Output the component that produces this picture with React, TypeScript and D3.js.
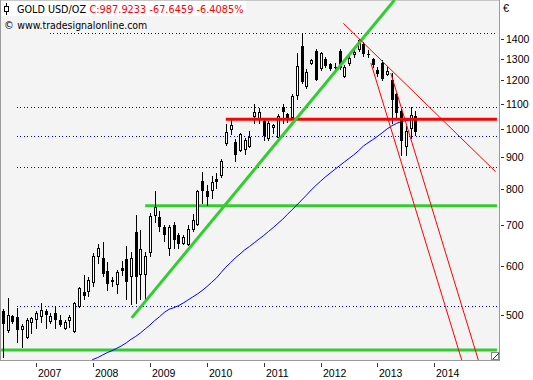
import React from 'react';
import * as d3 from 'd3';

// Monthly candles, June 2006 .. September 2013 (EUR per ounce)
const FIRST_MONTH = new Date(2006, 5, 1);
const opens = [506,470,497,495,473,458,484,490,495,506,486,504,491,474,489,468,514,544,545,562,620,618,589,564,558,595,615,575,680,580,580,630,724,720,694,640,700,673,652,649,687,700,825,792,792,830,840,945,996,953,920,925,935,1045,1040,1030,962,1002,968,1085,1058,1042,1131,1362,1170,1275,1340,1250,1300,1273,1260,1340,1215,1275,1317,1342,1375,1325,1300,1245,1278,1225,1200,1138,1070,935,1000,1050];
const highs = [511,532,500,512,482,494,495,506,522,510,503,516,500,491,500,525,555,580,575,630,650,655,609,576,591,610,645,632,725,686,632,730,793,735,700,700,706,678,674,700,729,797,853,810,840,850,893,1018,1033,962,986,966,992,1100,1080,1035,1030,1018,1058,1097,1062,1138,1328,1432,1250,1300,1349,1335,1310,1280,1280,1350,1270,1315,1342,1402,1385,1345,1305,1262,1295,1262,1232,1145,1083,1010,1085,1068];
const lows = [425,467,482,450,442,457,465,474,484,474,482,474,477,473,476,467,512,528,535,555,605,575,546,555,540,578,528,518,520,528,528,620,705,680,656,623,638,638,649,647,681,697,755,750,770,800,833,938,978,885,918,908,932,1018,1020,956,956,982,966,1018,1024,1038,1115,1185,1160,1268,1195,1243,1255,1243,1243,1245,1210,1265,1305,1335,1310,1305,1255,1215,1195,1218,1020,1040,905,905,965,975];
const closes = [482,500,486,473,479,490,493,503,509,499,498,491,481,486,496,522,552,536,570,623,642,582,560,570,587,588,565,618,575,640,623,724,747,694,672,694,660,651,667,689,713,792,792,777,820,820,887,990,1015,908,980,960,970,1064,1066,975,1024,1015,1050,1065,1042,1131,1265,1190,1238,1293,1203,1327,1265,1250,1257,1255,1260,1306,1334,1395,1322,1320,1269,1228,1205,1240,1115,1060,955,992,1053,988];

// Blue moving average, starting at candle index MA_START (Nov 2007)
const MA_START = 18;
const maValues = [418,423,426,430,434,437,441,445,450,456,461,467,474,481,489,496,504,510,513,517,522,528,534,540,547,555,564,573,585,597,607,618,627,637,645,654,663,672,682,692,703,714,727,740,753,767,781,796,810,823,836,848,860,872,884,896,908,922,938,950,961,973,986,1000,1012,1021,1028,1032,1035,1038];

// Drawn studies: [candle index, price]
const greenTrend: [number, number][] = [[27.15, 494], [82.6, 1619]];
const redTrendUpper: [number, number][] = [[71.8, 1484], [103.9, 853]];
const redSteep1: [number, number][] = [[77.6, 1280], [97.7, 400]];
const redSteep2: [number, number][] = [[81.8, 1232], [101.2, 400]];
const LINE_END = 104.2;
const greenLevels = [{ from: 30, price: 751 }, { from: -0.4, price: 438 }];
const redLevels = [{ from: 47, price: 1037 }];
const dottedLevels = [
  { from: 9.9, price: 1430 },
  { from: 2.9, price: 1085 },
  { from: 2.9, price: 974 },
  { from: 2.9, price: 868 },
  { from: 2.9, price: 517 },
];

const yTicks = [500, 600, 700, 800, 900, 1000, 1100, 1200, 1300, 1400];
const years = [2007, 2008, 2009, 2010, 2011, 2012, 2013, 2014];
const titleName = 'GOLD USD/OZ';
const titleQuote = 'C:987.9233 -67.6459 -6.4085%';
const copyright = 'www.tradesignalonline.com';

const months = d3.timeMonth.range(FIRST_MONTH, d3.timeMonth.offset(FIRST_MONTH, closes.length));

export default function App() {
  const W = 533, H = 380;
  const plotL = 0.5, plotR = 499.5, plotT = 0, plotB = 360.5;
  const x = d3.scaleLinear().domain([0, 87]).range([3, 415.4]);
  const y = d3.scaleLog().domain([421, 1619]).range([360.7, 0]);
  const line = d3.line<[number, number]>().x(d => x(d[0])).y(d => y(d[1]));
  const yearIndex = (yr: number) => (yr - FIRST_MONTH.getFullYear()) * 12 - FIRST_MONTH.getMonth();
  const maPts: [number, number][] = maValues.map((v, k) => [k + MA_START, v]);

  const axisFont = '"Liberation Sans", Arial, sans-serif';
  const titleFont = '"DejaVu Sans", Verdana, sans-serif';

  return (
    <svg width={W} height={H} style={{ position: 'absolute', left: 0, top: 0, background: '#fff' }}>
      <defs>
        <clipPath id="plotclip">
          <rect x={1} y={0} width={498} height={360} />
        </clipPath>
      </defs>
      <rect x={plotL} y={plotT} width={plotR - plotL} height={plotB - plotT} fill="#f4f4f4" stroke="#9a9a9a" strokeWidth={1} />
      <g clipPath="url(#plotclip)">
        <g shapeRendering="crispEdges">
          {dottedLevels.map((d, k) => (
            <line key={'d' + k} x1={Math.round(x(d.from))} x2={Math.round(x(LINE_END))} y1={Math.round(y(d.price)) + 0.5} y2={Math.round(y(d.price)) + 0.5}
              stroke="#0000dd" strokeWidth={1} strokeDasharray="1,2,1,3" />
          ))}
        </g>
        {greenLevels.map((d, k) => (
          <line key={'g' + k} x1={x(d.from)} x2={x(LINE_END)} y1={y(d.price)} y2={y(d.price)} stroke="#33cc33" strokeWidth={3} />
        ))}
        <path d={line(maPts) || ''} fill="none" stroke="#0000ff" strokeWidth={1} />
        {/* candles */}
        <g shapeRendering="crispEdges">
          {months.map((m, i) => {
            const o = opens[i], c = closes[i], hi = highs[i], lo = lows[i];
            const cx = Math.round(x(i));
            const top = Math.round(y(Math.max(o, c)));
            const bot = Math.round(y(Math.min(o, c)));
            const h = Math.max(1, bot - top);
            const black = c < o;
            return (
              <g key={i}>
                <line x1={cx + 0.5} x2={cx + 0.5} y1={Math.round(y(hi))} y2={Math.round(y(lo))} stroke="#000" strokeWidth={1} />
                {black ? (
                  <rect x={cx - 1} y={top} width={3} height={h} fill="#000" />
                ) : (
                  <rect x={cx - 0.5} y={top + 0.5} width={2} height={Math.max(0, h - 1)} fill="#fff" stroke="#000" strokeWidth={1} />
                )}
              </g>
            );
          })}
        </g>
        {redLevels.map((d, k) => (
          <line key={'r' + k} x1={x(d.from)} x2={x(LINE_END)} y1={y(d.price)} y2={y(d.price)} stroke="#ff0000" strokeWidth={3} />
        ))}
        <path d={line(greenTrend) || ''} fill="none" stroke="#33cc33" strokeWidth={3} />
        <path d={line(redTrendUpper) || ''} fill="none" stroke="#ff0000" strokeWidth={1} />
        <path d={line(redSteep1) || ''} fill="none" stroke="#ff0000" strokeWidth={1} />
        <path d={line(redSteep2) || ''} fill="none" stroke="#ff0000" strokeWidth={1} />
      </g>
      {/* title box */}
      <rect x={1} y={1} width={245} height={15} fill="#fff" />
      <line x1={6.5} x2={6.5} y1={3} y2={15} stroke="#000" />
      <rect x={4.5} y={6.5} width={4} height={5} fill="#fff" stroke="#000" />
      <text x={17} y={13} fontFamily={titleFont} fontSize={9.8} fill="#000" textLength={69} lengthAdjust="spacingAndGlyphs">{titleName}</text>
      <text x={89.5} y={13} fontFamily={titleFont} fontSize={9.8} fill="#ff0000" textLength={154} lengthAdjust="spacingAndGlyphs">{titleQuote}</text>
      <text x={4} y={29} fontFamily={titleFont} fontSize={9.8} fill="#000">©</text>
      <text x={17.3} y={29} fontFamily={titleFont} fontSize={9.8} fill="#000" textLength={130} lengthAdjust="spacingAndGlyphs">{copyright}</text>
      {/* resize icon */}
      <rect x={491.5} y={352.5} width={7} height={7} fill="#fff" stroke="#888" />
      <line x1={493} y1={359} x2={499} y2={353} stroke="#333" />
      {/* right axis */}
      <text x={503} y={12} fontFamily={axisFont} fontSize={11} fill="#000">€</text>
      {yTicks.map(v => {
        const yy = Math.round(y(v)) + 0.5;
        return (
          <g key={v}>
            <line x1={501} x2={504} y1={yy} y2={yy} stroke="#333" />
            <text x={506} y={yy} dy="0.35em" fontFamily={axisFont} fontSize={10.5} fill="#000">{v}</text>
          </g>
        );
      })}
      {/* bottom axis */}
      {years.map(yr => {
        const xx = Math.round(x(yearIndex(yr))) + 0.5;
        return (
          <g key={yr}>
            <line x1={xx} x2={xx} y1={363} y2={367} stroke="#333" />
            <text x={xx + 1.5} y={377} fontFamily={axisFont} fontSize={10.5} fill="#000">{yr}</text>
          </g>
        );
      })}
    </svg>
  );
}
